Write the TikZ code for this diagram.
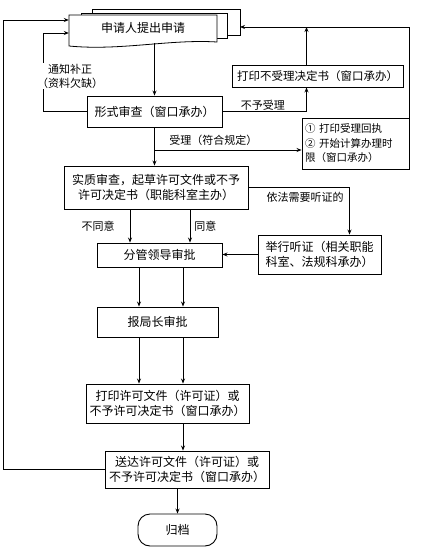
\documentclass[tikz,border=0pt]{standalone}
\usepackage{fontspec}
\setmainfont{Noto Sans CJK SC}
\usetikzlibrary{arrows.meta, positioning, calc}

\begin{document}
\begin{tikzpicture}[
    x=1pt, y=-1pt,
    box/.style={draw, line width=0.9pt, fill=white, align=center, inner sep=1pt, font=\fontsize{12}{15}\selectfont},
    lbl/.style={font=\fontsize{11}{14}\selectfont, inner sep=1pt},
    arr/.style={-{Stealth[length=5pt,width=4pt]}, line width=0.8pt},
    >=Stealth
  ]
  \useasboundingbox (0,0) rectangle (420,551);

  % stacked sheets
  \draw[line width=0.8pt, fill=white] (92,9) rectangle (240,35);
  \draw[line width=0.8pt, fill=white] (81,13) rectangle (227,38);
  \draw[line width=0.8pt, fill=white] (69,15) -- (217,15) -- (217,42)
    .. controls (170,39) and (120,51) .. (69,46) -- cycle;
  \node[font=\fontsize{12}{15}\selectfont, minimum width=148, minimum height=30] (apply) at (143,28) {申请人提出申请};

  \node[box, minimum width=135, minimum height=31] (form) at (154.5,111.5) {形式审查（窗口承办）};
  \node[box, minimum width=171, minimum height=22, font=\fontsize{11.5}{14}\selectfont] (reject) at (317.5,76) {打印不受理决定书（窗口承办）};
  \node[box, align=left, minimum width=107, minimum height=51, text width=101, font=\fontsize{10.5}{14.5}\selectfont] (accept) at (355.5,143.5) {① 打印受理回执\\② 开始计算办理时\\限（窗口承办）};
  \node[box, minimum width=184, minimum height=43] (review) at (156,187.5) {实质审查，起草许可文件或不予\\许可决定书（职能科室主办）};
  \node[box, minimum width=123, minimum height=39] (hearing) at (319.5,254.5) {举行听证（相关职能\\科室、法规科承办）};
  \node[box, minimum width=125, minimum height=24] (leader) at (159.5,255) {分管领导审批};
  \node[box, minimum width=121, minimum height=30] (director) at (157.5,322) {报局长审批};
  \node[box, minimum width=163, minimum height=39] (print) at (167.5,403.5) {打印许可文件（许可证）或\\不予许可决定书（窗口承办）};
  \node[box, minimum width=164, minimum height=37] (deliver) at (187,469.5) {送达许可文件（许可证）或\\不予许可决定书（窗口承办）};
  \node[box, rounded corners=12pt, minimum width=79, minimum height=32] (archive) at (177.5,530) {归档};

  \coordinate (back) at (240,27);
  \coordinate (fix) at (43,33);
  \coordinate (outer) at (3,20);
  \coordinate (fork) at (154.5,150);
  \coordinate (rjbot) at ($(reject.south)+(-11,0)$);
  \coordinate (rjtop) at ($(reject.north)+(-11,0)$);
  \coordinate (hrtop) at ($(hearing.north)+(30,0)$);
  \coordinate (no) at ($(review.south)+(-26,0)$);
  \coordinate (yes) at ($(review.south)+(34,0)$);
  \coordinate (pr) at ($(print.south)+(15.5,0)$);

  % top part
  \draw[arr] (form.north |- apply.south) -- (form.north);
  \draw[arr] (form.west) -| (fix) -- (fix -| apply.west);
  \node[lbl, fill=white, align=center] (fixlbl) at (70,76) {通知补正\\（资料欠缺）};
  \draw[arr] (form.east) -| (rjbot)
    node[lbl, pos=0.24, above] {不予受理};
  \draw[arr] (rjtop) -- (rjtop |- back);
  \draw[arr] (accept.north east) |- (back);
  \draw[arr] (form.south) -- (form.south |- review.north);
  \draw[arr] (fork) -- (fork -| accept.west)
    node[lbl, pos=0.4, above=3pt] {受理（符合规定）};

  % review and hearing
  \draw[arr] (review.east) -| (hrtop)
    node[lbl, pos=0.28, below=3pt] {依法需要听证的};
  \draw[arr] (hearing.west) -- (hearing.west -| leader.east);
  \draw[arr] (no) -- (no |- leader.north)
    node[lbl, midway, left=14pt] {不同意};
  \draw[arr] (yes) -- (yes |- leader.north)
    node[lbl, midway, right=3pt] {同意};

  % approval chain
  \foreach \dx [count=\i] in {-20.5, 23.5} {
    \coordinate (ld\i) at ($(leader.south)+(\dx,0)$);
    \draw[arr] (ld\i) -- (ld\i |- director.north);
  }
  \foreach \dx [count=\i] in {-18.5, 25.5} {
    \coordinate (dr\i) at ($(director.south)+(\dx,0)$);
    \draw[arr] (dr\i) -- (dr\i |- print.north);
  }
  \draw[arr] (pr) -- (pr |- deliver.north);
  \draw[arr] (archive.north |- deliver.south) -- (archive.north);
  \draw[arr] (deliver.west) -| (outer) -- (outer -| apply.west);
\end{tikzpicture}
\end{document}
